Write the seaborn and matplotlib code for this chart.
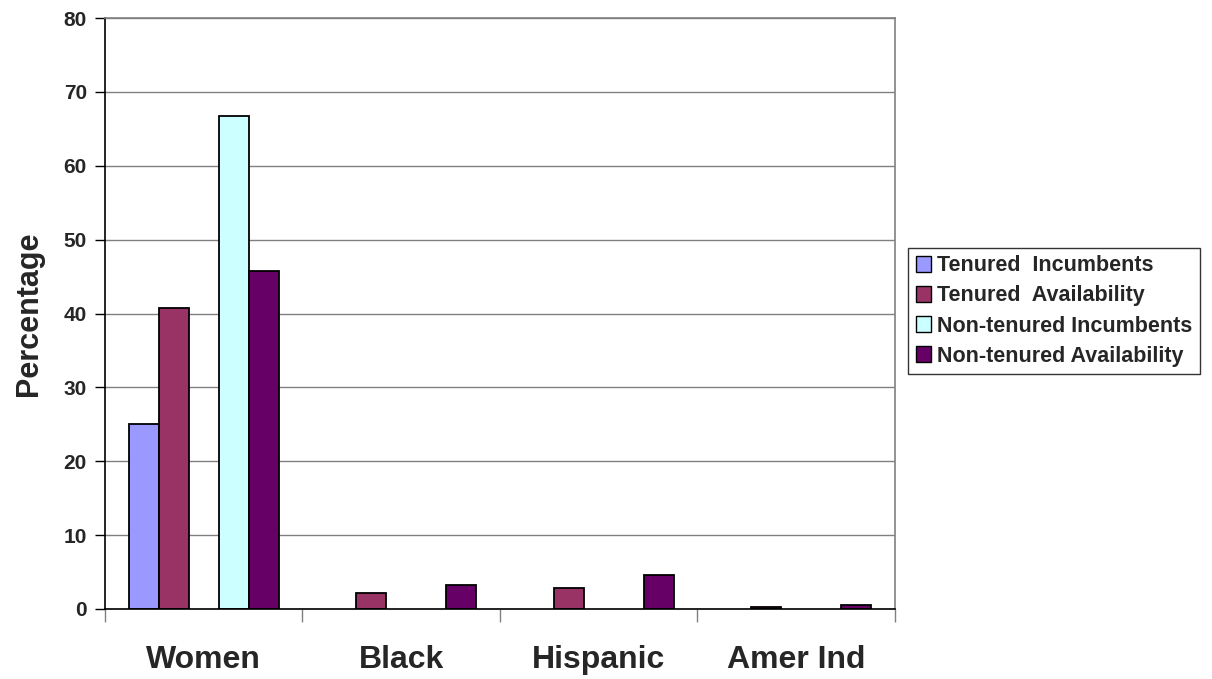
import matplotlib
matplotlib.use("Agg")
import matplotlib.pyplot as plt
from matplotlib.patches import Patch
from matplotlib.ticker import FixedLocator, MultipleLocator
import numpy as np
import pandas as pd
import seaborn as sns

# Groups on the x axis
groups = ["Women", "Black", "Hispanic", "Amer Ind"]

# Percentages per series
tenured_incumbents = [25.0, 0.0, 0.0, 0.0]
tenured_availability = [40.8, 2.1, 2.8, 0.3]
nontenured_incumbents = [66.7, 0.0, 0.0, 0.0]
nontenured_availability = [45.8, 3.3, 4.6, 0.5]

series_names = [
    "Tenured  Incumbents",
    "Tenured  Availability",
    "Non-tenured Incumbents",
    "Non-tenured Availability",
]
series_values = [
    tenured_incumbents,
    tenured_availability,
    nontenured_incumbents,
    nontenured_availability,
]
series_colors = ["#9999FF", "#993366", "#CCFFFF", "#660066"]

# An empty slot separates the tenured pair from the non-tenured pair
spacer = " "

rows = []
for name, vals in zip(series_names, series_values):
    for g, v in zip(groups, vals):
        rows.append({"group": g, "series": name, "value": v})
for g in groups:
    rows.append({"group": g, "series": spacer, "value": 0.0})
df = pd.DataFrame(rows)

hue_order = series_names[:2] + [spacer] + series_names[2:]
palette = dict(zip(series_names, series_colors))
palette[spacer] = "#FFFFFF"

sns.set_theme(style="white")
plt.rcParams["font.family"] = ["Liberation Sans", "DejaVu Sans"]
plt.rcParams["font.weight"] = "bold"

fig = plt.figure(figsize=(12.12, 6.79), dpi=100)
ax = fig.add_axes([105 / 1212, 1 - 609 / 679, 790 / 1212, 591 / 679])

sns.barplot(
    data=df, x="group", y="value", hue="series", hue_order=hue_order,
    order=groups, palette=palette, width=0.76, errorbar=None,
    edgecolor="black", linewidth=1.3, ax=ax, legend=False, saturation=1,
)

# drop the spacer slot and any empty (zero-height) bars
for i, cont in enumerate(ax.containers):
    for p in cont.patches:
        if i == 2 or p.get_height() == 0:
            p.remove()

ax.set_xlim(-0.5, len(groups) - 0.5)
ax.set_ylim(0, 80)
ax.yaxis.set_major_locator(MultipleLocator(10))
ax.grid(axis="y", color="#808080", linewidth=1.0)
ax.set_axisbelow(True)

for side in ["left", "bottom"]:
    ax.spines[side].set_color("black")
    ax.spines[side].set_linewidth(1.2)
for side in ["top", "right"]:
    ax.spines[side].set_color("#808080")
    ax.spines[side].set_linewidth(1.2)
    ax.spines[side].set_visible(True)

ax.tick_params(axis="y", which="major", direction="out", length=7, width=1,
               color="black", labelsize=15, pad=6, left=True)
ax.tick_params(axis="x", which="major", length=0, labelsize=23, pad=26)
ax.xaxis.set_minor_locator(FixedLocator(np.arange(-0.5, len(groups), 1.0)))
ax.tick_params(axis="x", which="minor", direction="out", length=9, width=1,
               color="#808080", bottom=True)
for lbl in ax.get_xticklabels() + ax.get_yticklabels():
    lbl.set_fontweight("bold")

ax.set_xlabel("")
ax.set_ylabel("Percentage", fontsize=22, fontweight="bold", labelpad=14)

handles = [Patch(facecolor=c, edgecolor="black", linewidth=1.0)
           for c in series_colors]
leg = fig.legend(
    handles, series_names, loc="center left",
    bbox_to_anchor=(908 / 1212, 1 - 311 / 679),
    prop={"size": 15.5, "weight": "bold"},
    frameon=True, fancybox=False, shadow=False,
    handlelength=0.72, handleheight=0.72, handletextpad=0.3,
    labelspacing=0.42, borderpad=0.35, borderaxespad=0,
)
leg.get_frame().set_edgecolor("black")
leg.get_frame().set_linewidth(1.0)

fig.savefig("out.png", dpi=100, facecolor="white")
